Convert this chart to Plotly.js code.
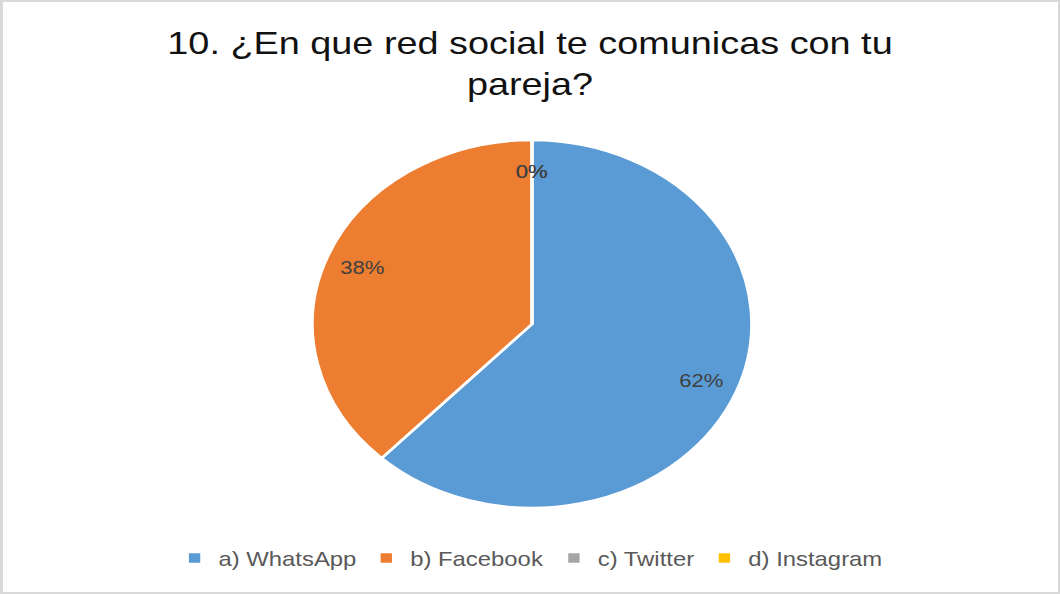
<!DOCTYPE html>
<html>
<head>
<meta charset="utf-8">
<script src="https://cdn.plot.ly/plotly-3.0.1.min.js"></script>
<style>
  html, body { margin: 0; padding: 0; background: #ffffff; overflow: hidden; }
  #frame {
    position: absolute; left: 0; top: 0; width: 1060px; height: 594px;
    box-sizing: border-box; background: #ffffff;
    border-style: solid; border-color: #d9d9d9;
    border-width: 2px 2px 2px 3px;
  }
  #chart {
    position: absolute; left: 0; top: 0; width: 888px; height: 594px;
    transform: scaleX(1.19369); transform-origin: 0 0;
  }
</style>
</head>
<body>
<div id="frame"></div>
<div id="chart"></div>
<script>
  const chartTitle = "10. ¿En que red social te comunicas con tu<br>pareja?";
  const categories = ["a) WhatsApp", "b) Facebook", "c) Twitter", "d) Instagram"];
  const values = [62, 38, 0, 0];
  const colors = ["#5B9BD5", "#ED7D31", "#A5A5A5", "#FFC000"];

  const W = 888, H = 594;
  const dom = { x: [0.2947, 0.7091], y: [0.1448, 0.7643] };

  const trace = {
    type: "pie",
    labels: categories,
    values: values,
    sort: false,
    direction: "clockwise",
    rotation: 0,
    marker: { colors: colors, line: { color: "#ffffff", width: 2.5 } },
    textinfo: "none",
    domain: dom,
    hoverinfo: "label+percent"
  };

  // Data labels placed Excel-style (best fit) along each slice's mid-angle
  const total = values.reduce((a, b) => a + b, 0);
  const cx = (dom.x[0] + dom.x[1]) / 2 * W;
  const cy = (1 - (dom.y[0] + dom.y[1]) / 2) * H;
  const r = Math.min((dom.x[1] - dom.x[0]) * W, (dom.y[1] - dom.y[0]) * H) / 2;
  const k = 0.83;
  let cum = 0;
  const annotations = values.map((v) => {
    const mid = (cum + v / 2) / total * 2 * Math.PI;
    cum += v;
    const px = cx + k * r * Math.sin(mid);
    const py = cy - k * r * Math.cos(mid);
    return {
      xref: "paper", yref: "paper",
      x: px / W, y: 1 - py / H,
      xanchor: "center", yanchor: "middle",
      showarrow: false,
      text: Math.round(v / total * 100) + "%",
      font: { family: "Liberation Sans, Arial, sans-serif", size: 18.5, color: "#404040" }
    };
  });

  const layout = {
    width: W,
    height: H,
    margin: { l: 0, r: 0, t: 0, b: 0 },
    paper_bgcolor: "rgba(0,0,0,0)",
    plot_bgcolor: "rgba(0,0,0,0)",
    title: {
      text: chartTitle,
      font: { family: "Liberation Sans, Arial, sans-serif", size: 31.7, color: "#111111" },
      x: 0.5, xanchor: "center",
      y: 1 - 54 / H, yanchor: "top", yref: "container"
    },
    annotations: annotations,
    showlegend: true,
    legend: {
      orientation: "h",
      x: 0.5, xanchor: "center",
      y: 1 - 558 / H, yanchor: "middle",
      font: { family: "Liberation Sans, Arial, sans-serif", size: 20, color: "#595959" },
      traceorder: "normal"
    }
  };

  Plotly.newPlot("chart", [trace], layout, { displayModeBar: false, staticPlot: true });
</script>
</body>
</html>
